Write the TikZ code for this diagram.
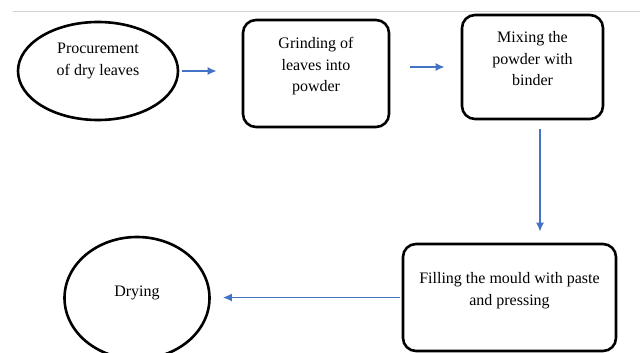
\documentclass[tikz,border=0pt]{standalone}
\usepackage{fontspec}
\setmainfont{Liberation Serif}
\usetikzlibrary{shapes.geometric,arrows.meta}

\definecolor{flowblue}{HTML}{4472C4}

\tikzset{
  stage/.style={draw=black, line width=2.6pt, rounded corners=13pt},
  oval/.style={draw=black, line width=2.6pt, ellipse},
  txt/.style={align=center, font=\fontsize{16}{21.5}\selectfont},
  flow/.style={draw=flowblue, line width=1.6pt, -{Latex[length=9pt,width=8pt]}}
}

\begin{document}
\begin{tikzpicture}[x=1pt, y=-1pt]
\useasboundingbox (0,0) rectangle (640,353);
\clip (0,0) rectangle (640,353);
% thin rule at the top
\draw [gray!35, line width=0.8pt] (13,11) -- (640,11);
% stages
\node[oval, minimum width=160, minimum height=98,
  label={[txt, yshift=10pt]center:Procurement\\of dry leaves}] (proc) at (98,71) {};
\node[stage, minimum width=146, minimum height=107,
  label={[txt, yshift=7pt]center:Grinding of\\leaves into\\powder}] (grind) at (316,73.5) {};
\node[stage, minimum width=141, minimum height=104,
  label={[txt, yshift=8pt]center:Mixing the\\powder with\\binder}] (mix) at (532.5,67) {};
\node[stage, minimum width=213, minimum height=107,
  label={[txt, yshift=7pt]center:Filling the mould with paste\\and pressing}] (fill) at (509.5,297.5) {};
\node[oval, minimum width=145, minimum height=122,
  label={[txt, yshift=5pt]center:Drying}] (dry) at (137,298) {};
% connectors
\draw [flow, shorten <=3pt, shorten >=25pt] (proc.east) -- (proc.east -| grind.west);
\draw [flow, shorten <=20pt, shorten >=16pt] (mix.west -| grind.east) -- (mix.west);
\draw [flow, shorten <=9pt, shorten >=11pt] ([xshift=7.5pt]mix.south) -- ([xshift=7.5pt]mix.south |- fill.north);
\draw [flow, shorten <=2pt, shorten >=12pt] (fill.west) -- (fill.west -| dry.east);
\end{tikzpicture}
\end{document}
